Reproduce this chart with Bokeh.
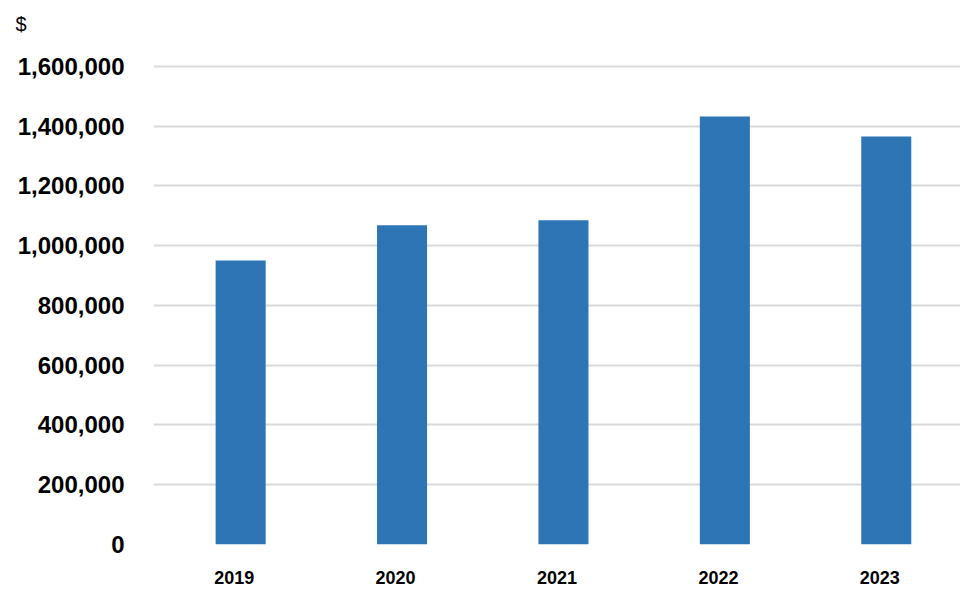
from bokeh.plotting import figure
from bokeh.models import ColumnDataSource, NumeralTickFormatter, FixedTicker, Range1d
from bokeh.transform import dodge
from bokeh.embed import file_html
from bokeh.resources import INLINE

categories = ["2019", "2020", "2021", "2022", "2023"]
values = [950000, 1068000, 1085000, 1432000, 1365000]
y_ticks = [0, 200000, 400000, 600000, 800000, 1000000, 1200000, 1400000, 1600000]

src = ColumnDataSource(dict(cat=categories, val=values))

p = figure(x_range=categories, y_range=Range1d(0, 1700000),
           width=960, height=590, output_backend="svg", toolbar_location=None,
           min_border_left=153, min_border_right=0, min_border_top=36, min_border_bottom=46)

p.vbar(x=dodge("cat", 0.04, range=p.x_range), top="val", width=0.31, source=src,
       fill_color="#2e75b6", line_color=None)

p.title.text = "$"
p.title.align = "left"
p.title.offset = -138
p.title.text_font = "Liberation Sans"
p.title.text_font_size = "20px"
p.title.text_font_style = "normal"
p.title.text_color = "black"
p.title.standoff = 4

p.outline_line_color = None
p.xgrid.grid_line_color = None
p.ygrid.grid_line_color = "#d9d9d9"
p.ygrid.grid_line_width = 2

p.yaxis.ticker = FixedTicker(ticks=y_ticks)
p.yaxis.formatter = NumeralTickFormatter(format="0,0")
p.yaxis.axis_line_color = None
p.yaxis.major_tick_line_color = None
p.yaxis.minor_tick_line_color = None
p.yaxis.major_label_text_font = "Liberation Sans"
p.yaxis.major_label_text_font_size = "24px"
p.yaxis.major_label_text_font_style = "bold"
p.yaxis.major_label_text_color = "black"
p.yaxis.major_label_standoff = 23

p.xaxis.axis_line_color = None
p.xaxis.major_tick_line_color = None
p.xaxis.minor_tick_line_color = None
p.xaxis.major_label_text_font = "Liberation Sans"
p.xaxis.major_label_text_font_size = "18px"
p.xaxis.major_label_text_font_style = "bold"
p.xaxis.major_label_text_color = "black"
p.xaxis.major_label_standoff = 20

open("out.html", "w").write(file_html(p, INLINE))
